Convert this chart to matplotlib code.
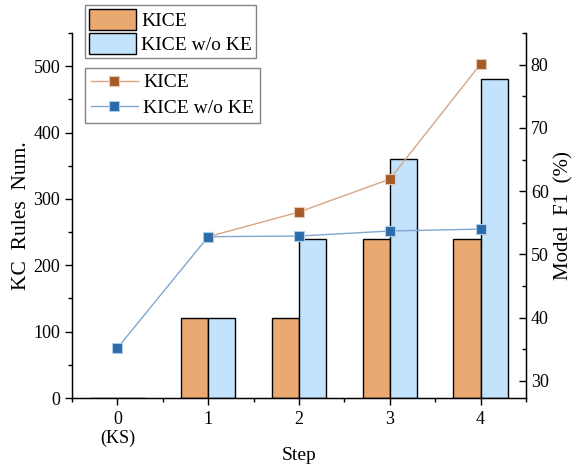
import matplotlib
matplotlib.use("Agg")
import matplotlib.pyplot as plt
import numpy as np
from matplotlib.ticker import MultipleLocator

plt.rcParams['font.family'] = ['Liberation Serif', 'DejaVu Serif']

steps = [0, 1, 2, 3, 4]
step_labels = ["0\n(KS)", "1", "2", "3", "4"]
rules_kice = [0, 120, 120, 240, 240]
rules_wo = [0, 120, 240, 360, 480]
f1_kice_steps = [1, 2, 3, 4]
f1_kice = [52.8, 56.7, 61.9, 80.1]
f1_wo = [35.2, 52.8, 52.9, 53.7, 54.0]

fig = plt.figure(figsize=(5.77, 4.65), dpi=100)
ax = fig.add_axes([72/577, 1-398/465, (526-72)/577, (398-33)/465])
ax2 = ax.twinx()

w = 0.3
x = np.array(steps)
b1 = ax.bar(x - w/2, rules_kice, width=w, color='#E9A970', edgecolor='black', linewidth=1.0, label='KICE')
b2 = ax.bar(x + w/2, rules_wo, width=w, color='#C2E3FB', edgecolor='black', linewidth=1.0, label='KICE w/o KE')

ax.set_xlim(-0.5, 4.5)
ax.set_ylim(0, 550)
ax.yaxis.set_major_locator(MultipleLocator(100))
ax.yaxis.set_minor_locator(MultipleLocator(50))
ax.set_xticks(steps)
ax.set_xticklabels(step_labels)
ax.xaxis.set_minor_locator(MultipleLocator(0.5))
ax.tick_params(axis='both', which='major', direction='out', length=5, width=1, labelsize=13)
ax.tick_params(axis='both', which='minor', direction='out', length=3, width=1)
ax.tick_params(axis='x', which='major', pad=4)
ax.spines['top'].set_visible(False)
for s in ['left', 'bottom', 'right']:
    ax.spines[s].set_linewidth(1.0)
ax.set_ylabel('KC  Rules  Num.', fontsize=15.5, labelpad=2)
ax.set_xlabel('Step', fontsize=14, labelpad=0)

l1, = ax2.plot(f1_kice_steps, f1_kice, color='#D9A582', linewidth=1.0, marker='s', markersize=7,
               markerfacecolor='#A65A28', markeredgecolor='#E8C8B0', markeredgewidth=0.8, label='KICE')
l2, = ax2.plot(steps, f1_wo, color='#80A8CF', linewidth=1.0, marker='s', markersize=7,
               markerfacecolor='#2A6BAA', markeredgecolor='#B0CCE6', markeredgewidth=0.8, label='KICE w/o KE')
ax2.set_ylim(27.3, 85)
ax2.yaxis.set_major_locator(MultipleLocator(10))
ax2.yaxis.set_minor_locator(MultipleLocator(5))
ax2.tick_params(axis='y', which='major', direction='in', length=5, width=1, labelsize=13)
ax2.tick_params(axis='y', which='minor', direction='in', length=3, width=1)
ax2.spines['top'].set_visible(False)
ax2.set_ylabel('Model  F1  (%)', fontsize=15)

leg1 = fig.legend(handles=[b1, b2], loc='upper left', bbox_to_anchor=(85/577, 1-5/465),
                  fontsize=14, frameon=True, fancybox=False, edgecolor='#666666',
                  handlelength=2.4, handleheight=1.3, borderpad=0.2, labelspacing=0.15,
                  handletextpad=0.3, borderaxespad=0)
leg1.get_frame().set_linewidth(1.0)
leg2 = fig.legend(handles=[l1, l2], loc='upper left', bbox_to_anchor=(85/577, 1-68/465),
                  fontsize=14, frameon=True, fancybox=False, edgecolor='#666666',
                  handlelength=2.4, borderpad=0.3, labelspacing=0.4,
                  handletextpad=0.3, borderaxespad=0)
leg2.get_frame().set_linewidth(1.0)

fig.savefig('out.png', dpi=100)
